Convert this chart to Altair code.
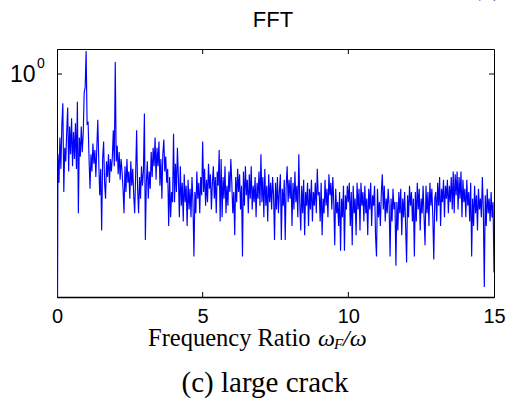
import altair as alt
import pandas as pd

# Frequency grid step (ratio units) and FFT amplitudes
freq_step = 1.0 / 30.0
fft_amp = [
    # 0 - 1
    0.02, 0.47, 0.36, 0.55, 0.41, 0.62, 0.76, 0.33, 0.50, 0.44, 0.58, 0.73, 0.40, 0.61, 0.47,
    0.66, 0.42, 0.58, 0.45, 0.63, 0.41, 0.77, 0.27, 0.55, 0.46, 0.61, 0.48, 0.57, 0.84, 0.88,
    # 1 - 2
    1.24, 0.62, 0.64, 0.45, 0.34, 0.47, 0.40, 0.52, 0.43, 0.49, 0.38, 0.50, 0.65, 0.44, 0.32,
    0.41, 0.23, 0.45, 0.53, 0.36, 0.31, 0.44, 0.38, 0.47, 0.36, 0.45, 0.40, 0.46, 0.59, 0.42,
    # 2 - 3
    1.12, 0.44, 0.51, 0.39, 0.48, 0.37, 0.45, 0.40, 0.34, 0.27, 0.42, 0.33, 0.45, 0.36, 0.40,
    0.31, 0.44, 0.35, 0.41, 0.32, 0.27, 0.39, 0.59, 0.34, 0.27, 0.38, 0.31, 0.42, 0.35, 0.40,
    # 3 - 4
    0.69, 0.21, 0.36, 0.44, 0.31, 0.40, 0.34, 0.48, 0.38, 0.50, 0.42, 0.55, 0.37, 0.50, 0.42,
    0.53, 0.35, 0.45, 0.31, 0.47, 0.54, 0.40, 0.46, 0.36, 0.41, 0.24, 0.38, 0.26, 0.33, 0.30,
    # 4 - 5
    0.57, 0.30, 0.43, 0.33, 0.50, 0.38, 0.26, 0.42, 0.29, 0.36, 0.25, 0.39, 0.30, 0.35, 0.24,
    0.37, 0.28, 0.34, 0.26, 0.38, 0.30, 0.18, 0.33, 0.27, 0.40, 0.31, 0.36, 0.27, 0.38, 0.32,
    # 5 - 6
    0.53, 0.33, 0.41, 0.29, 0.37, 0.30, 0.43, 0.34, 0.39, 0.28, 0.36, 0.42, 0.31, 0.38, 0.27,
    0.40, 0.35, 0.49, 0.25, 0.45, 0.26, 0.38, 0.31, 0.42, 0.27, 0.35, 0.29, 0.40, 0.33, 0.45,
    # 6 - 7
    0.36, 0.27, 0.33, 0.22, 0.38, 0.30, 0.41, 0.33, 0.39, 0.28, 0.35, 0.18, 0.40, 0.29, 0.42,
    0.32, 0.37, 0.27, 0.39, 0.31, 0.42, 0.28, 0.35, 0.30, 0.38, 0.26, 0.36, 0.31, 0.40, 0.29,
    # 7 - 8
    0.47, 0.30, 0.38, 0.26, 0.41, 0.29, 0.35, 0.25, 0.39, 0.30, 0.36, 0.28, 0.38, 0.32, 0.21,
    0.36, 0.28, 0.38, 0.27, 0.33, 0.39, 0.21, 0.34, 0.29, 0.37, 0.21, 0.35, 0.42, 0.30, 0.37,
    # 8 - 9
    0.31, 0.38, 0.24, 0.36, 0.28, 0.40, 0.30, 0.35, 0.26, 0.47, 0.30, 0.23, 0.35, 0.27, 0.37,
    0.22, 0.33, 0.29, 0.36, 0.24, 0.34, 0.28, 0.37, 0.25, 0.33, 0.29, 0.36, 0.27, 0.41, 0.32,
    # 9 - 10
    0.33, 0.25, 0.36, 0.22, 0.31, 0.27, 0.37, 0.29, 0.34, 0.26, 0.39, 0.32, 0.36, 0.28, 0.38,
    0.30, 0.20, 0.34, 0.27, 0.30, 0.24, 0.33, 0.19, 0.31, 0.26, 0.35, 0.19, 0.32, 0.28, 0.35,
    # 10 - 11
    0.30, 0.36, 0.24, 0.33, 0.20, 0.35, 0.27, 0.31, 0.22, 0.36, 0.28, 0.34, 0.23, 0.36, 0.29,
    0.33, 0.25, 0.35, 0.27, 0.31, 0.22, 0.34, 0.28, 0.36, 0.24, 0.32, 0.29, 0.35, 0.22, 0.18,
    # 11 - 12
    0.34, 0.26, 0.30, 0.24, 0.33, 0.39, 0.28, 0.35, 0.25, 0.31, 0.27, 0.34, 0.29, 0.18, 0.31,
    0.25, 0.34, 0.28, 0.30, 0.165, 0.30, 0.23, 0.33, 0.27, 0.34, 0.22, 0.31, 0.26, 0.33, 0.24,
    # 12 - 13
    0.17, 0.32, 0.26, 0.35, 0.29, 0.33, 0.25, 0.31, 0.18, 0.33, 0.25, 0.36, 0.28, 0.34, 0.23,
    0.31, 0.27, 0.35, 0.26, 0.20, 0.35, 0.27, 0.33, 0.24, 0.36, 0.29, 0.34, 0.26, 0.175, 0.31,
    # 13 - 14
    0.33, 0.25, 0.36, 0.29, 0.38, 0.24, 0.34, 0.30, 0.37, 0.26, 0.35, 0.31, 0.37, 0.27, 0.35,
    0.30, 0.38, 0.28, 0.40, 0.27, 0.39, 0.32, 0.40, 0.28, 0.38, 0.31, 0.40, 0.26, 0.37, 0.30,
    # 14 - 15
    0.34, 0.26, 0.37, 0.29, 0.33, 0.25, 0.36, 0.18, 0.31, 0.24, 0.35, 0.27, 0.32, 0.23, 0.34,
    0.28, 0.31, 0.26, 0.38, 0.28, 0.135, 0.32, 0.24, 0.34, 0.27, 0.31, 0.25, 0.33, 0.26, 0.30,
    # 15
    0.155,
]

x_ticks = [0, 5, 10, 15]
x_inner_ticks = [5, 10]
y_ticks = [1.0]
y_domain = [0.123, 1.265]
x_domain = [0, 15]

title_text = "FFT"
caption_text = "(c) large crack"
panel_tag = "(c)"

df = pd.DataFrame({
    "ratio": [round(i * freq_step, 4) for i in range(len(fft_amp))],
    "amp": fft_amp,
})

W, H = 437, 248
xs = alt.Scale(domain=x_domain, nice=False, zero=False)
ys = alt.Scale(type="log", domain=y_domain, nice=False)

x_axis = alt.Axis(values=x_ticks, title=None, tickSize=0, labelFontSize=20,
                  labelFont="Liberation Sans", labelColor="black", labelPadding=9,
                  domainColor="black", domainWidth=1.5, grid=False, labelFlush=False)
y_axis = alt.Axis(values=y_ticks, labelExpr="'10'", title=None, tickSize=0,
                  labelFontSize=23, labelFont="Liberation Sans", labelColor="black",
                  labelPadding=22, grid=False, domainColor="black")

line = alt.Chart(df).mark_line(color="#0000ff", strokeWidth=1.15, clip=True).encode(
    x=alt.X("ratio:Q", scale=xs, axis=x_axis),
    y=alt.Y("amp:Q", scale=ys, axis=y_axis),
)

xt = pd.DataFrame({"ratio": x_inner_ticks})
yt = pd.DataFrame({"amp": y_ticks})
tick_bottom = alt.Chart(xt).mark_rule(color="black", strokeWidth=1).encode(
    x=alt.X("ratio:Q", scale=xs, axis=x_axis), y=alt.value(H), y2=alt.value(H - 5))
tick_top = alt.Chart(xt).mark_rule(color="black", strokeWidth=1).encode(
    x=alt.X("ratio:Q", scale=xs, axis=x_axis), y=alt.value(0), y2=alt.value(5))
tick_left = alt.Chart(yt).mark_rule(color="black", strokeWidth=1).encode(
    y=alt.Y("amp:Q", scale=ys, axis=y_axis), x=alt.value(0), x2=alt.value(5))
tick_right = alt.Chart(yt).mark_rule(color="black", strokeWidth=1).encode(
    y=alt.Y("amp:Q", scale=ys, axis=y_axis), x=alt.value(W - 5), x2=alt.value(W))


def label(text, x, y, size, font="Liberation Serif", style="normal", align="left",
          baseline="alphabetic"):
    return alt.Chart(pd.DataFrame({"t": [text]})).mark_text(
        font=font, fontSize=size, fontStyle=style, align=align, baseline=baseline,
        color="black",
    ).encode(text="t:N", x=alt.value(x), y=alt.value(y))


texts = [
    label(title_text, 216, -22, 22, font="Liberation Sans", align="center"),
    label("0", -20, 8, 14, font="Liberation Sans", baseline="top"),
    label("Frequency Ratio", 91, 297, 24.5),
    label("ω", 261, 297, 24, style="italic"),
    label("F", 277, 300, 15, style="italic"),
    label("/ω", 286, 297, 24, style="italic"),
    label(caption_text, 208, 343, 29, align="center"),
    label(panel_tag, 430, -54, 27, align="center"),
]

chart = alt.layer(line, tick_bottom, tick_top, tick_left, tick_right, *texts).properties(
    width=W, height=H,
    autosize=alt.AutoSizeParams(type="none"),
    padding={"left": 57, "top": 49, "right": 14, "bottom": 110},
    background="white",
).configure_view(stroke="black", strokeWidth=1)

chart.save("out.html", embed_options={"renderer": "svg", "actions": False})
